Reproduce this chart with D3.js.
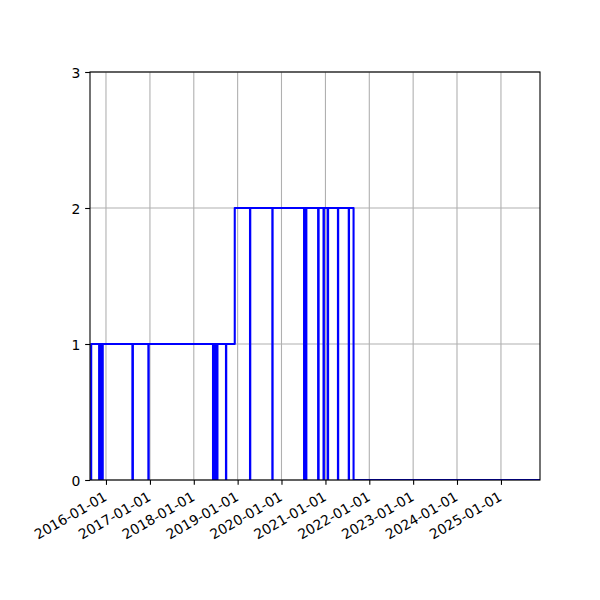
<!DOCTYPE html>
<html>
<head>
<meta charset="utf-8">
<script src="https://cdn.jsdelivr.net/npm/d3@7"></script>
<style>
  html, body { margin: 0; padding: 0; background: #fff; }
  svg { display: block; }
  text { font-family: "DejaVu Sans", sans-serif; }
</style>
</head>
<body>
<script>
// Change points of the step series (value holds until the next date)
const changeDates = [
  "2015-08-21", "2015-08-31",
  "2015-11-05", "2015-11-08", "2015-11-12", "2015-11-15", "2015-11-19", "2015-11-22",
  "2015-11-26", "2015-11-29", "2015-12-02", "2015-12-05",
  "2016-08-08", "2016-08-12",
  "2016-12-19", "2016-12-21",
  "2018-06-10", "2018-06-14", "2018-06-18", "2018-06-22", "2018-06-26", "2018-06-30",
  "2018-07-04", "2018-07-08", "2018-07-12", "2018-07-17",
  "2018-09-26", "2018-09-28",
  "2018-12-08",
  "2019-04-14", "2019-04-16",
  "2019-10-17", "2019-10-19",
  "2020-07-07", "2020-07-11", "2020-07-15", "2020-07-19", "2020-07-23", "2020-07-26", "2020-07-30",
  "2020-11-01", "2020-11-05",
  "2020-12-16", "2020-12-19",
  "2021-01-19", "2021-01-23",
  "2021-04-15", "2021-04-17",
  "2021-07-14", "2021-07-16",
  "2021-08-23",
  "2025-11-22"
];
const seriesValues = [
  0, 1,
  0, 1, 0, 1, 0, 1,
  0, 1, 0, 1,
  0, 1,
  0, 1,
  0, 1, 0, 1, 0, 1,
  0, 1, 0, 1,
  0, 1,
  2,
  0, 2,
  0, 2,
  0, 2, 0, 2, 0, 2, 2,
  0, 2,
  0, 2,
  0, 2,
  0, 2,
  0, 2,
  0,
  0
];
const yTicks = [0, 1, 2, 3];
const xTickLabels = ["2016-01-01","2017-01-01","2018-01-01","2019-01-01","2020-01-01",
                     "2021-01-01","2022-01-01","2023-01-01","2024-01-01","2025-01-01"];

const W = 600, H = 600;
const m = { left: 90, right: 540, top: 72, bottom: 480 };
const parse = d3.utcParse("%Y-%m-%d");
const fmt = d3.utcFormat("%Y-%m-%d");

const data = changeDates.map((d, i) => ({ t: parse(d), v: seriesValues[i] }));

const x = d3.scaleUtc()
  .domain(d3.extent(data, d => d.t))
  .range([m.left, m.right]);
const y = d3.scaleLinear().domain([0, 3]).range([m.bottom, m.top]);

const svg = d3.select("body").append("svg").attr("width", W).attr("height", H);

svg.append("defs").append("clipPath").attr("id", "clip")
  .append("rect").attr("x", m.left).attr("y", m.top)
  .attr("width", m.right - m.left).attr("height", m.bottom - m.top);

const xTicks = xTickLabels.map(parse);

// grid
const grid = svg.append("g");
grid.selectAll(".gx").data(xTicks).join("line")
  .attr("x1", d => x(d)).attr("x2", d => x(d))
  .attr("y1", m.top).attr("y2", m.bottom)
  .attr("stroke", "#b0b0b0").attr("stroke-width", 1.1);
grid.selectAll(".gy").data(yTicks).join("line")
  .attr("x1", m.left).attr("x2", m.right)
  .attr("y1", d => y(d)).attr("y2", d => y(d))
  .attr("stroke", "#b0b0b0").attr("stroke-width", 1.1);

// series
const line = d3.line().x(d => x(d.t)).y(d => y(d.v)).curve(d3.curveStepAfter);
svg.append("path").datum(data)
  .attr("clip-path", "url(#clip)")
  .attr("d", line)
  .attr("fill", "none")
  .attr("stroke", "#0000ff")
  .attr("stroke-width", 2.08)
  .attr("stroke-linejoin", "round");

// axes
const fs = 13.9;
const xAxis = d3.axisBottom(x).tickValues(xTicks).tickFormat(fmt)
  .tickSize(4.86).tickPadding(4.86);
const gx = svg.append("g").attr("transform", `translate(0,${m.bottom})`).call(xAxis);
gx.select(".domain").remove();
gx.selectAll(".tick line").attr("stroke", "#000").attr("stroke-width", 1.1);
gx.selectAll(".tick text")
  .attr("font-size", fs).attr("font-family", "DejaVu Sans").attr("fill", "#000")
  .attr("text-anchor", "end")
  .attr("x", 1.5).attr("y", 19.5).attr("dy", 0)
  .attr("transform", "rotate(-30, 1.5, 19.5)");

const yAxis = d3.axisLeft(y).tickValues(yTicks).tickFormat(d3.format("d"))
  .tickSize(4.86).tickPadding(4.86);
const gy = svg.append("g").attr("transform", `translate(${m.left},0)`).call(yAxis);
gy.select(".domain").remove();
gy.selectAll(".tick line").attr("stroke", "#000").attr("stroke-width", 1.1);
gy.selectAll(".tick text")
  .attr("font-size", fs).attr("font-family", "DejaVu Sans").attr("fill", "#000")
  .attr("dy", "0.36em");

// spines
svg.append("rect")
  .attr("x", m.left).attr("y", m.top)
  .attr("width", m.right - m.left).attr("height", m.bottom - m.top)
  .attr("fill", "none").attr("stroke", "#000").attr("stroke-width", 1.1);
</script>
</body>
</html>
